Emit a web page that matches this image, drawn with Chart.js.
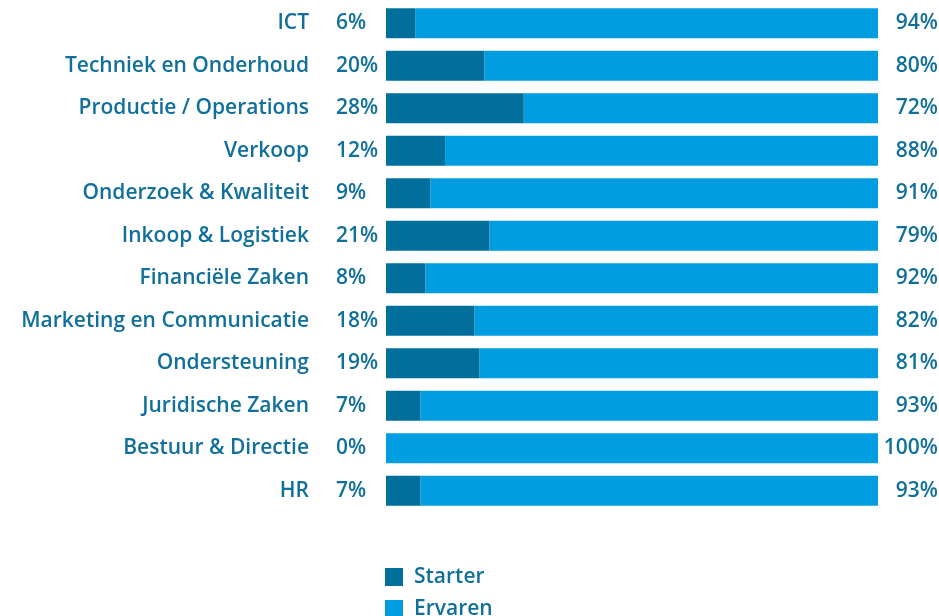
<!DOCTYPE html>
<html>
<head>
<meta charset="utf-8">
<script src="https://cdn.jsdelivr.net/npm/chart.js@4/dist/chart.umd.min.js"></script>
<style>
  html, body { margin: 0; padding: 0; background: #fff; }
  #wrap { width: 939px; height: 616px; }
</style>
</head>
<body>
<div id="wrap"><canvas id="afdelingen"></canvas></div>
<script>
const categories = [
    'ICT', 'Techniek en Onderhoud', 'Productie / Operations', 'Verkoop',
    'Onderzoek & Kwaliteit', 'Inkoop & Logistiek', 'Financiële Zaken',
    'Marketing en Communicatie', 'Ondersteuning', 'Juridische Zaken',
    'Bestuur & Directie', 'HR'
];
const starter = [6, 20, 28, 12, 9, 21, 8, 18, 19, 7, 0, 7];
const ervaren = [94, 80, 72, 88, 91, 79, 92, 82, 81, 93, 100, 93];

const textColor = '#11709b';
const fontFamily = '"Open Sans", "Noto Sans", sans-serif';
const fontSize = 21;
const fontWeight = 600;

// percentages links en rechts van de balken
const percentLabels = {
    id: 'percentLabels',
    afterDatasetsDraw(chart) {
        const c = chart.ctx;
        const y = chart.scales.y;
        c.save();
        c.fillStyle = textColor;
        c.font = fontWeight + ' ' + fontSize + 'px ' + fontFamily;
        c.textBaseline = 'middle';
        categories.forEach((cat, i) => {
            const py = y.getPixelForValue(i);
            c.textAlign = 'left';
            c.fillText(starter[i] + '%', 336, py);
            c.textAlign = 'right';
            c.fillText(ervaren[i] + '%', chart.width - 1, py);
        });
        c.restore();
    }
};

// legenda onder elkaar
const stackedLegend = {
    id: 'stackedLegend',
    afterDraw(chart) {
        const c = chart.ctx;
        const left = chart.chartArea.left - 1;
        c.save();
        c.font = fontWeight + ' ' + fontSize + 'px ' + fontFamily;
        c.textBaseline = 'middle';
        c.textAlign = 'left';
        chart.data.datasets.forEach((ds, i) => {
            const top = 568 + i * 32;
            c.fillStyle = ds.backgroundColor;
            c.fillRect(left, top, 18, 18);
            c.fillStyle = textColor;
            c.fillText(ds.label, left + 29, top + 9);
        });
        c.restore();
    }
};

const ctx = document.getElementById('afdelingen').getContext('2d');
const afdelingen = new Chart(ctx, {
    type: 'bar',
    data: {
        labels: categories,
        datasets: [{
            label: 'Starter',
            data: starter,
            backgroundColor: '#006f9b',
            barPercentage: 0.705,
            categoryPercentage: 1
        }, {
            label: 'Ervaren',
            data: ervaren,
            backgroundColor: '#009ee0',
            barPercentage: 0.705,
            categoryPercentage: 1
        }]
    },
    options: {
        indexAxis: 'y',
        responsive: true,
        maintainAspectRatio: false,
        animation: false,
        layout: {
            autoPadding: false,
            padding: { top: 2, bottom: 104, right: 61, left: 0 }
        },
        plugins: {
            legend: { display: false },
            tooltip: { enabled: false }
        },
        scales: {
            x: {
                stacked: true,
                min: 0,
                max: 100,
                display: false
            },
            y: {
                stacked: true,
                grid: { display: false },
                border: { display: false },
                afterFit(scale) {
                    scale.width = 386;
                    scale.paddingTop = 0;
                    scale.paddingBottom = 0;
                },
                ticks: {
                    color: textColor,
                    padding: 69,
                    font: { family: fontFamily, size: fontSize, weight: fontWeight }
                }
            }
        }
    },
    plugins: [percentLabels, stackedLegend]
});
</script>
</body>
</html>
